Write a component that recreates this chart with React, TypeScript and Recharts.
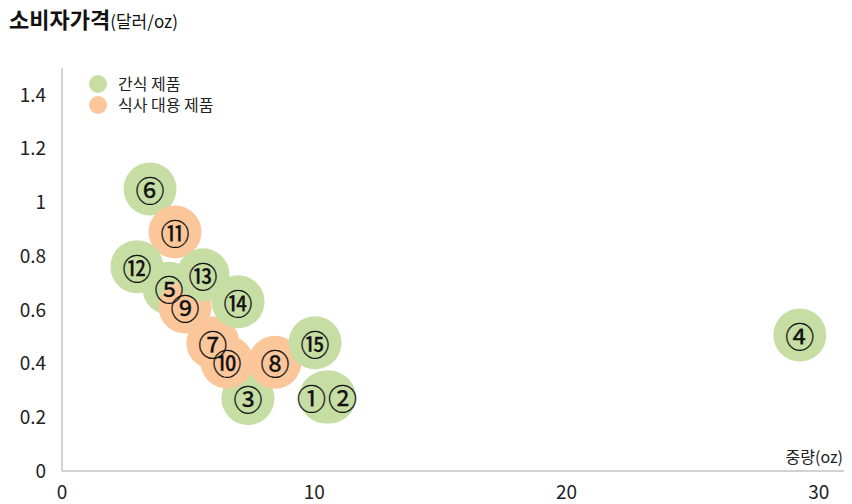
import { ScatterChart, Scatter, XAxis, YAxis, LabelList } from 'recharts';

// bubble number, weight (oz), consumer price ($/oz), product type
const ids = [1, 2, 3, 4, 5, 6, 7, 8, 9, 10, 11, 12, 13, 14, 15];
const weights = [10.45, 10.6, 7.37, 29.25, 4.24, 3.49, 5.98, 8.44, 4.88, 6.54, 4.48, 2.97, 5.59, 6.98, 10.03];
const prices = [0.275, 0.275, 0.27, 0.506, 0.68, 1.05, 0.477, 0.405, 0.61, 0.406, 0.89, 0.76, 0.73, 0.63, 0.477];
const types = ['snack', 'snack', 'snack', 'snack', 'snack', 'snack', 'meal', 'meal', 'meal', 'meal', 'meal', 'snack', 'snack', 'snack', 'snack'];

const xTicks = [0, 10, 20, 30];
const yTicks = [0, 0.2, 0.4, 0.6, 0.8, 1, 1.2, 1.4];

const seriesNames = { snack: '간식 제품', meal: '식사 대용 제품' };
const COLORS: Record<string, string> = { snack: '#c6dea4', meal: '#fcc69b' };
const CIRCLED = ['①', '②', '③', '④', '⑤', '⑥', '⑦', '⑧', '⑨', '⑩', '⑪', '⑫', '⑬', '⑭', '⑮'];
// 1 and 2 share one bubble, so their labels sit side by side
const LABEL_DX: Record<number, number> = { 1: -14, 2: 13 };

const FONT = '"Noto Sans CJK KR", "Noto Sans", sans-serif';

const data = ids.map((id, i) => ({ id, weight: weights[i], price: prices[i], type: types[i] }));

const Bubble = (props: any) => {
  const { cx, cy, payload } = props;
  return <circle cx={cx} cy={cy} r={26.5} fill={COLORS[payload.type]} />;
};

const BubbleLabel = (props: any) => {
  const { x, y, width, height, value } = props;
  const cx = x + (width || 0) / 2;
  const cy = y + (height || 0) / 2;
  const dx = LABEL_DX[value] || 0;
  return (
    <text
      x={cx + dx}
      y={cy}
      textAnchor="middle"
      dominantBaseline="central"
      fontSize={29}
      fill="#111"
      stroke="#111"
      strokeWidth={0.3}
    >
      {CIRCLED[value - 1]}
    </text>
  );
};

export default function App() {
  return (
    <div style={{ position: 'absolute', left: 0, top: 0, width: 852, height: 504, fontFamily: FONT, background: '#fff' }}>
      <div style={{ position: 'absolute', left: 9, top: 2, color: '#111', whiteSpace: 'nowrap' }}>
        <span style={{ fontSize: 22, fontWeight: 700 }}>소비자가격</span>
        <span style={{ fontSize: 17 }}>(달러/oz)</span>
      </div>
      <div
        style={{
          position: 'absolute',
          left: 89,
          top: 73,
          fontSize: 16,
          color: '#222',
          lineHeight: '21px',
          zIndex: 2,
        }}
      >
        {(['snack', 'meal'] as const).map((k) => (
          <div key={k} style={{ display: 'flex', alignItems: 'center' }}>
            <span
              style={{
                width: 18,
                height: 18,
                borderRadius: '50%',
                background: COLORS[k],
                display: 'inline-block',
                marginRight: 11,
              }}
            />
            <span>{seriesNames[k]}</span>
          </div>
        ))}
      </div>
      <ScatterChart width={852} height={504} margin={{ top: 68, right: 8, bottom: 0, left: 0 }}>
        <XAxis
          type="number"
          dataKey="weight"
          domain={[0, 31]}
          ticks={xTicks}
          tickLine={false}
          axisLine={{ stroke: '#a6a6a6' }}
          height={33}
          tickMargin={9}
          tick={{ fontSize: 19, fill: '#222' }}
          label={{
            content: (p: any) => {
              const vb = p.viewBox || {};
              return (
                <text x={vb.x + vb.width - 1} y={vb.y - 8} textAnchor="end" fontSize={16} fill="#222">
                  중량(oz)
                </text>
              );
            },
          }}
        />
        <YAxis
          type="number"
          dataKey="price"
          domain={[0, 1.5]}
          ticks={yTicks}
          tickLine={false}
          axisLine={{ stroke: '#a6a6a6' }}
          width={62}
          tickMargin={10}
          tick={{ fontSize: 19, fill: '#222' }}
        />
        <Scatter data={data} shape={Bubble} isAnimationActive={false}>
          <LabelList dataKey="id" content={BubbleLabel} />
        </Scatter>
      </ScatterChart>
    </div>
  );
}
